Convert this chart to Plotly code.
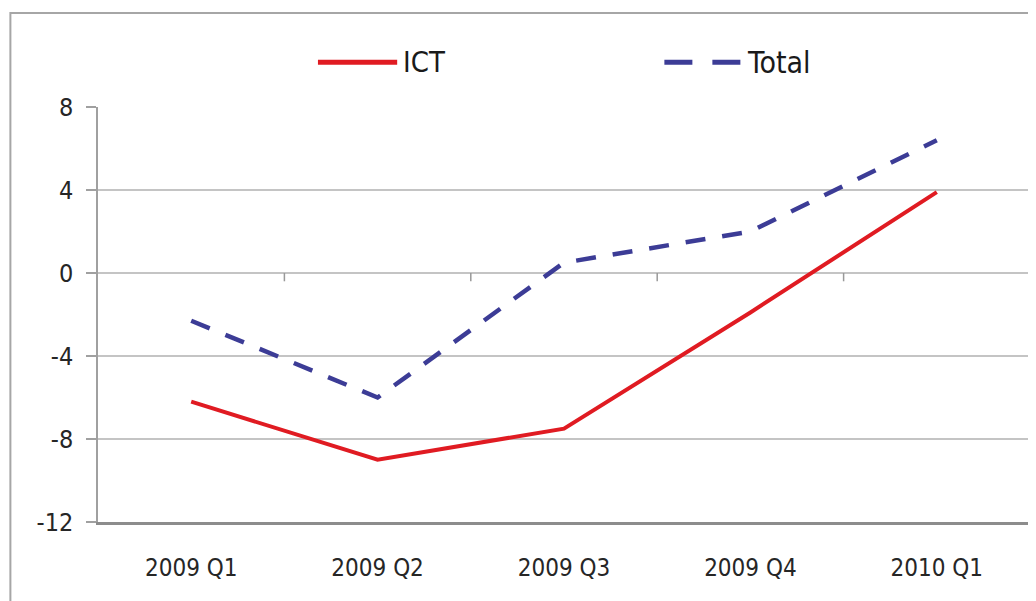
import plotly.graph_objects as go

quarters = ['2009 Q1', '2009 Q2', '2009 Q3', '2009 Q4', '2010 Q1']
ict = [-6.2, -9.0, -7.5, -1.9, 3.9]
total = [-2.3, -6.0, 0.5, 2.0, 6.4]
y_ticks = [-12, -8, -4, 0, 4, 8]
y_labels = ['-12', '-8', '-4', '0', '4', '8']

font_family = 'DejaVu Sans Condensed, Liberation Sans, sans-serif'
ict_color = '#e01b22'
total_color = '#3c3c96'

fig = go.Figure()
fig.add_trace(go.Scatter(x=quarters, y=ict, name='ICT', mode='lines',
                         line=dict(color=ict_color, width=4)))
fig.add_trace(go.Scatter(x=quarters, y=total, name='Total', mode='lines',
                         line=dict(color=total_color, width=4.5, dash='20px,17px')))

shapes = []
# little tick marks on the zero line between the categories
for b in [0.5, 1.5, 2.5, 3.5, 4.5]:
    shapes.append(dict(type='line', xref='x', yref='y', x0=b, x1=b, y0=0, y1=-0.4,
                       line=dict(color='#999999', width=1.5)))
# outer chart frame
shapes.append(dict(type='rect', xref='paper', yref='paper', x0=-0.094, x1=1.05, y0=-0.3, y1=1.2265,
                   line=dict(color='#a6a6a6', width=2), layer='below'))
# legend swatches
shapes.append(dict(type='line', xref='paper', yref='paper', x0=0.236, x1=0.321, y0=1.108, y1=1.108,
                   line=dict(color=ict_color, width=5)))
shapes.append(dict(type='line', xref='paper', yref='paper', x0=0.6077, x1=0.69, y0=1.108, y1=1.108,
                   line=dict(color=total_color, width=5, dash='28px,20px')))

annotations = [
    dict(text='ICT', xref='paper', yref='paper', x=0.325, y=1.108, xanchor='left', yanchor='middle',
         showarrow=False, font=dict(size=29, color='#1a1a1a')),
    dict(text='Total', xref='paper', yref='paper', x=0.6945, y=1.108, xanchor='left', yanchor='middle',
         showarrow=False, font=dict(size=30, color='#1a1a1a')),
]

# page body adds 8px around the figure, so the figure is 8px smaller
fig.update_layout(
    width=1028, height=593,
    margin=dict(l=90, r=6, t=99, b=79),
    paper_bgcolor='white', plot_bgcolor='white',
    font=dict(family=font_family, color='#262626', size=24),
    showlegend=False,
    shapes=shapes,
    annotations=annotations,
    xaxis=dict(type='category', range=[-0.5, 4.5], showgrid=False, zeroline=False,
               showline=True, linecolor='#8c8c8c', linewidth=2.5, ticks='',
               ticklabelstandoff=22, tickfont=dict(size=24), automargin=False),
    yaxis=dict(range=[-12, 8], tickvals=y_ticks, ticktext=y_labels, showgrid=True,
               gridcolor='#c4c4c4', gridwidth=1.5, zeroline=False, showline=True,
               linecolor='#a0a0a0', linewidth=1.5, ticks='outside', ticklen=10,
               tickcolor='#a0a0a0', tickwidth=1.5, ticklabelstandoff=8,
               tickfont=dict(size=25), automargin=False),
)

fig.write_html('out.html')
